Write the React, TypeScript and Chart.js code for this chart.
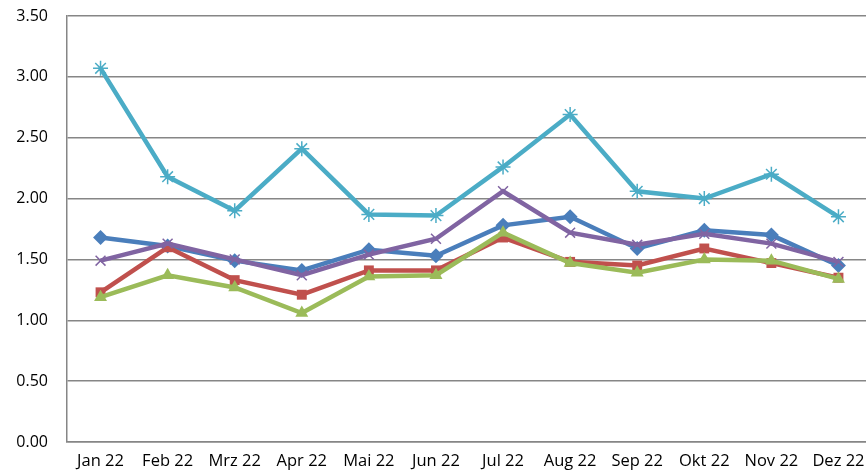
import React, { useEffect, useRef } from "react";
import { Chart, registerables } from "chart.js";

Chart.register(...registerables);

const categories = ["Jan 22", "Feb 22", "Mrz 22", "Apr 22", "Mai 22", "Jun 22", "Jul 22", "Aug 22", "Sep 22", "Okt 22", "Nov 22", "Dez 22"];
const blueSeries = [1.68, 1.61, 1.49, 1.41, 1.58, 1.53, 1.78, 1.85, 1.59, 1.74, 1.70, 1.45];
const redSeries = [1.23, 1.60, 1.33, 1.21, 1.41, 1.41, 1.68, 1.48, 1.45, 1.59, 1.47, 1.35];
const greenSeries = [1.19, 1.37, 1.27, 1.06, 1.36, 1.37, 1.72, 1.47, 1.39, 1.50, 1.49, 1.34];
const purpleSeries = [1.49, 1.63, 1.50, 1.37, 1.54, 1.67, 2.06, 1.72, 1.62, 1.71, 1.63, 1.48];
const cyanSeries = [3.07, 2.18, 1.90, 2.41, 1.87, 1.86, 2.26, 2.69, 2.06, 2.00, 2.20, 1.85];
const yTicks = [0, 0.5, 1, 1.5, 2, 2.5, 3, 3.5];

export default function App() {
  const ref = useRef<HTMLCanvasElement | null>(null);
  useEffect(() => {
    if (!ref.current) return;
    const mk = (data: number[], color: string, style: any, radius: number, order: number, bw = 0) => ({
      data,
      borderColor: color,
      backgroundColor: color,
      pointBackgroundColor: color,
      pointBorderColor: color,
      pointBorderWidth: bw,
      pointStyle: style,
      pointRadius: radius,
      borderWidth: 4.5,
      tension: 0,
      order,
    });
    const chart = new Chart(ref.current, {
      type: "line",
      data: {
        labels: categories,
        datasets: [
          mk(blueSeries, "#4A7EBB", "rectRot", 7.5, 5),
          mk(redSeries, "#C0504D", "rect", 7, 4),
          mk(greenSeries, "#9BBB59", "triangle", 7.5, 3),
          mk(purpleSeries, "#8064A2", "crossRot", 7, 2, 1.5),
          mk(cyanSeries, "#4BACC6", "star", 7.5, 1, 1.5),
        ],
      },
      options: {
        animation: false,
        responsive: true,
        maintainAspectRatio: false,
        layout: { padding: { left: 0, top: 16, right: 0, bottom: 0 } },
        plugins: { legend: { display: false }, tooltip: { enabled: false } },
        scales: {
          x: {
            offset: true,
            grid: { display: false, drawTicks: false },
            border: { display: true, color: "#868686", width: 1.5 },
            ticks: { color: "#000", font: { family: "Open Sans", size: 16.5 }, padding: 9, maxRotation: 0, autoSkip: false },
            afterFit: (axis: any) => {
              axis.height = 34;
              axis.paddingLeft = 0;
              axis.paddingRight = 0;
            },
          },
          y: {
            min: 0,
            max: 3.5,
            afterBuildTicks: (axis: any) => {
              axis.ticks = yTicks.map((v) => ({ value: v }));
            },
            afterFit: (axis: any) => {
              axis.width = 67;
              axis.paddingTop = 0;
              axis.paddingBottom = 0;
            },
            grid: { color: "#868686", lineWidth: 1.5, drawTicks: false },
            border: { display: true, color: "#868686", width: 1.5 },
            ticks: {
              color: "#000",
              font: { family: "Open Sans", size: 16 },
              padding: 19,
              callback: (v: any) => Number(v).toFixed(2),
            },
          },
        },
      },
    });
    return () => chart.destroy();
  }, []);
  return (
    <div style={{ position: "fixed", left: 0, top: 0, width: 866, height: 476, overflow: "hidden", background: "#fff" }}>
      <div style={{ position: "relative", width: 881, height: 476 }}>
        <canvas ref={ref} />
      </div>
    </div>
  );
}
